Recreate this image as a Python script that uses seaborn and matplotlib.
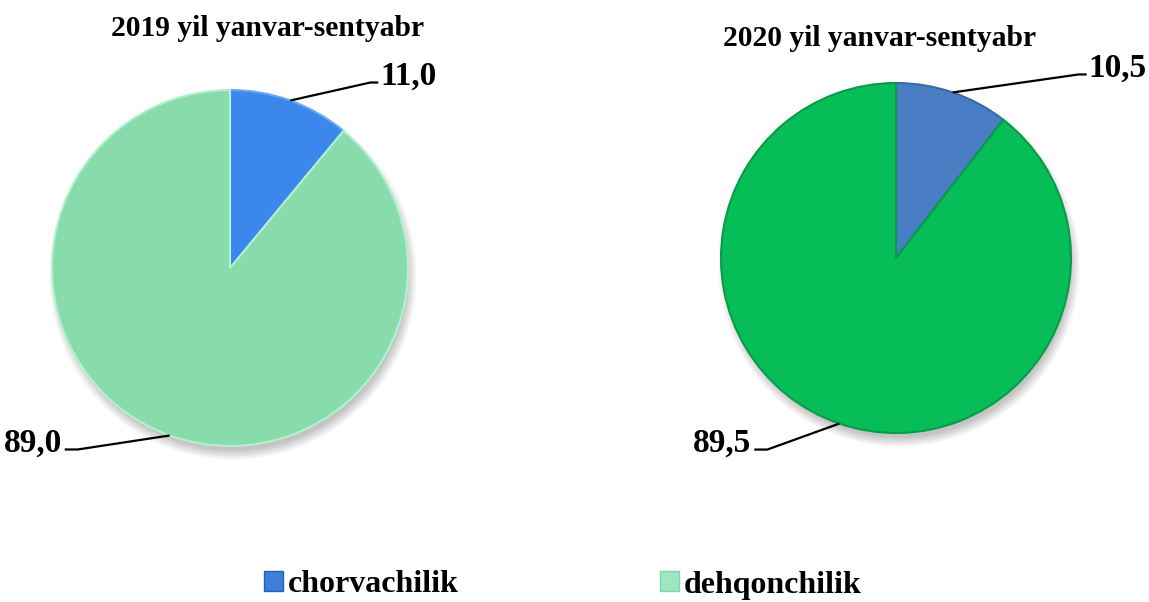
import numpy as np
import matplotlib
matplotlib.use("Agg")
import matplotlib.pyplot as plt
import seaborn as sns
from matplotlib.patches import Patch, Circle

sns.set_theme(style="white")
plt.rcParams['font.family'] = ['Liberation Serif', 'DejaVu Serif']
plt.rcParams['text.color'] = 'black'

# ---- data ----
categories = ["chorvachilik", "dehqonchilik"]
titles = ["2019 yil yanvar-sentyabr", "2020 yil yanvar-sentyabr"]
values_2019 = [11.0, 89.0]
values_2020 = [10.5, 89.5]
labels_2019 = ["11,0", "89,0"]
labels_2020 = ["10,5", "89,5"]

W, H = 1149, 602
fig = plt.figure(figsize=(W / 100, H / 100), dpi=100)
ax = fig.add_axes([0, 0, 1, 1])
ax.set_xlim(0, W)
ax.set_ylim(0, H)
ax.set_aspect("equal")
ax.axis("off")

pies = [
    dict(vals=values_2019, labs=labels_2019, title=titles[0], center=(230, 334), r=178,
         colors=["#3b87ec", "#88dcac"], edges=["#6aa8f5", "#b4f0cf"],
         title_xy=(268, 574),
         lab_cfg=[((80, 18), 8, "left"), ((-92, -14), -13, "right")]),
    dict(vals=values_2020, labs=labels_2020, title=titles[1], center=(896, 344), r=175,
         colors=["#4a7ec4", "#07bd57"], edges=["#3a69a8", "#079c47"],
         title_xy=(880, 564),
         lab_cfg=[((126, 18), 8, "left"), ((-72, -26), -13, "right")]),
]

for p in pies:
    cx, cy = p["center"]
    # soft shadow, mostly below / right
    for i in range(12):
        ax.add_patch(Circle((cx + 3, cy - 8), p["r"] - 4 + i * 0.9, facecolor="black",
                            edgecolor="none", alpha=0.02, zorder=0))
    wedges, _ = ax.pie(p["vals"], center=p["center"], radius=p["r"], startangle=90,
                       counterclock=False, colors=p["colors"],
                       wedgeprops=dict(linewidth=1.5, zorder=2),
                       frame=True)
    for w, ec in zip(wedges, p["edges"]):
        w.set_edgecolor(ec)
        w.set_zorder(2)
    ax.text(p["title_xy"][0], p["title_xy"][1], p["title"], ha="center", va="center",
            fontsize=21.3, fontweight="bold", color="black")
    for w, lab, ((dx, dy), hx, ha) in zip(wedges, p["labs"], p["lab_cfg"]):
        ang = np.deg2rad((w.theta1 + w.theta2) / 2)
        ax0, ay0 = cx + p["r"] * np.cos(ang), cy + p["r"] * np.sin(ang)
        ex, ey = ax0 + dx, ay0 + dy
        fx = ex + hx
        ax.plot([ax0, ex, fx], [ay0, ey, ey], color="black", lw=1.6,
                solid_capstyle="butt", zorder=3)
        tx = fx + (2 if ha == "left" else -3)
        ax.text(tx, ey - 2, lab, ha=ha, va="baseline", fontsize=24, fontweight="bold",
                color="black")

ax.set_xlim(0, W)
ax.set_ylim(0, H)
ax.axis("off")

handles = [Patch(facecolor="#3b7fd9", edgecolor="#2a5fb0"),
           Patch(facecolor="#9de8c0", edgecolor="#7fd6a8")]
leg = fig.legend(handles, categories, loc="center", bbox_to_anchor=(0.49, 17 / H),
                 ncol=2, frameon=False, handlelength=0.6, handleheight=0.6,
                 handletextpad=0.15, columnspacing=6.3, labelcolor="black",
                 prop=dict(family="Liberation Serif", weight="bold", size=23))

fig.savefig("out.png", dpi=100)
